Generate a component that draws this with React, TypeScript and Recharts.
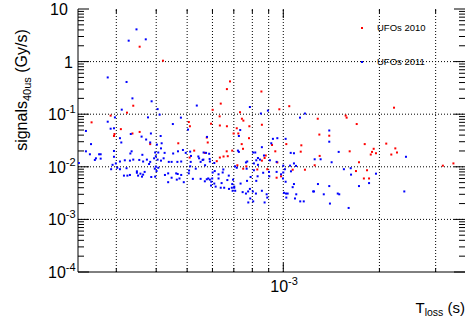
import React from "react";
import { ScatterChart, Scatter, XAxis, YAxis, ReferenceLine } from "recharts";

const FONT = '"Liberation Sans", Arial, Helvetica, sans-serif';
const W = 467;
const H = 321;
const PL = 78;
const PR = 465;
const PT = 9;
const PB = 272;

// T_loss in ms, signal in Gy/s
const ufos2010: [number, number][] = [
  [0.355, 1.92], [0.42, 1.04], [0.681, 0.42], [0.666, 0.3], [0.854, 0.27], [0.339, 0.145], [0.637, 0.159],
  [0.601, 0.121], [0.732, 0.109], [0.972, 0.124], [0.324, 0.107], [0.288, 0.094], [0.632, 0.091], [0.742, 0.082],
  [0.75, 0.0755], [0.251, 0.07], [0.506, 0.071], [0.594, 0.066], [0.51, 0.059], [0.633, 0.061], [0.666, 0.059],
  [0.783, 0.059], [0.857, 0.063], [0.715, 0.054], [0.31, 0.052], [1.044, 0.142], [0.699, 0.043], [0.576, 0.036],
  [0.58, 0.029], [0.469, 0.028], [0.526, 0.0203], [0.568, 0.0184], [0.692, 0.0203], [0.665, 0.0197], [0.65, 0.0157],
  [0.67, 0.0159], [0.633, 0.015], [0.619, 0.0128], [0.509, 0.015], [0.295, 0.0385], [0.337, 0.043], [0.355, 0.046],
  [0.383, 0.027], [0.296, 0.042], [0.723, 0.043], [0.781, 0.035], [0.741, 0.027], [0.922, 0.026], [1.022, 0.027],
  [1.139, 0.0256], [1.134, 0.0194], [0.944, 0.0197], [0.748, 0.022], [0.881, 0.0164], [0.874, 0.0147], [0.857, 0.0131],
  [0.958, 0.0121], [0.718, 0.0107], [0.766, 0.0102], [0.749, 0.0092], [0.829, 0.0089], [0.891, 0.009], [1.07, 0.0088],
  [1.169, 0.0088], [0.953, 0.0062], [0.984, 0.0066], [1.568, 0.094], [1.579, 0.086], [1.282, 0.082], [1.698, 0.065],
  [1.297, 0.041], [1.393, 0.039], [1.799, 0.027], [2.101, 0.0276], [1.919, 0.022], [1.896, 0.0192], [1.951, 0.0181],
  [1.879, 0.0171], [2.179, 0.0171], [1.614, 0.0197], [1.3, 0.0161], [1.726, 0.0122], [1.254, 0.0107], [1.689, 0.0083],
  [1.829, 0.0086], [1.788, 0.006], [1.856, 0.006], [2.222, 0.133], [2.243, 0.0224], [2.27, 0.0187], [3.16, 0.0105],
  [3.41, 0.0116],
];

const ufos2011: [number, number][] = [
  [0.347, 4.1], [0.328, 2.5], [0.371, 2.65], [0.282, 0.5], [0.323, 0.41], [0.337, 0.2], [0.387, 0.176], [0.312, 0.122],
  [0.404, 0.125], [0.536, 0.146], [0.786, 0.137], [0.895, 0.117], [0.851, 0.103], [0.297, 0.087], [0.41, 0.098],
  [0.377, 0.087], [0.478, 0.086], [0.282, 0.072], [0.451, 0.065], [0.295, 0.054], [0.288, 0.053], [0.503, 0.051],
  [1.169, 0.103], [1.128, 0.086], [0.241, 0.048], [0.308, 0.035], [0.36, 0.0375], [0.333, 0.042], [0.385, 0.043],
  [0.25, 0.027], [0.372, 0.033], [0.311, 0.029], [0.383, 0.029], [0.295, 0.02], [0.335, 0.0197], [0.332, 0.0179],
  [0.241, 0.0197], [0.248, 0.0173], [0.265, 0.0173], [0.268, 0.0173], [0.362, 0.0169], [0.397, 0.0187], [0.399, 0.0159],
  [0.259, 0.0145], [0.268, 0.0143], [0.257, 0.0135], [0.295, 0.0155], [0.339, 0.0137], [0.354, 0.0135], [0.374, 0.0137],
  [0.394, 0.0145], [0.229, 0.0118], [0.292, 0.0109], [0.299, 0.0116], [0.308, 0.0126], [0.319, 0.0133], [0.331, 0.0131],
  [0.364, 0.0126], [0.383, 0.0124], [0.38, 0.0113], [0.302, 0.0096], [0.323, 0.0094], [0.289, 0.009], [0.308, 0.009],
  [0.399, 0.0101], [0.396, 0.0092], [0.348, 0.0082], [0.368, 0.008], [0.348, 0.0077], [0.357, 0.0074], [0.317, 0.0068],
  [0.325, 0.0068], [0.331, 0.007], [0.351, 0.0068], [0.364, 0.0071], [0.361, 0.0065], [0.386, 0.0064], [0.397, 0.0065],
  [0.401, 0.0083], [0.413, 0.0385], [0.577, 0.037], [0.416, 0.028], [0.402, 0.0264], [0.414, 0.0224], [0.485, 0.0209],
  [0.468, 0.0197], [0.452, 0.0179], [0.511, 0.0194], [0.425, 0.0184], [0.406, 0.0187], [0.495, 0.0184], [0.563, 0.0187],
  [0.573, 0.0184], [0.514, 0.0161], [0.542, 0.0157], [0.586, 0.0177], [0.545, 0.0145], [0.559, 0.0135], [0.588, 0.0141],
  [0.422, 0.0145], [0.404, 0.0137], [0.414, 0.0131], [0.438, 0.0124], [0.447, 0.0124], [0.466, 0.0124], [0.479, 0.0126],
  [0.513, 0.0124], [0.551, 0.0124], [0.589, 0.0126], [0.569, 0.0107], [0.532, 0.0092], [0.511, 0.0102], [0.507, 0.0085],
  [0.506, 0.0075], [0.479, 0.007], [0.436, 0.0075], [0.426, 0.007], [0.447, 0.0062], [0.462, 0.0075], [0.467, 0.0073],
  [0.473, 0.006], [0.464, 0.0057], [0.488, 0.0051], [0.406, 0.0096], [0.436, 0.0051], [0.521, 0.0059], [0.551, 0.0059],
  [0.576, 0.0058], [0.568, 0.0053], [0.582, 0.006], [0.589, 0.0057], [0.601, 0.0078], [0.61, 0.0083], [0.627, 0.0072],
  [0.646, 0.0078], [0.599, 0.006], [0.627, 0.006], [0.595, 0.0052], [0.608, 0.0048], [0.641, 0.0049], [0.675, 0.0068],
  [0.668, 0.0056], [0.696, 0.0057], [0.692, 0.0047], [0.637, 0.004], [0.653, 0.004], [0.676, 0.0038], [0.69, 0.004],
  [0.702, 0.0042], [0.694, 0.0035], [0.594, 0.0044], [0.614, 0.0042], [0.562, 0.0137], [0.608, 0.0118], [0.649, 0.0089],
  [0.733, 0.05], [0.726, 0.0385], [0.928, 0.034], [0.958, 0.035], [1.017, 0.034], [0.917, 0.028], [0.857, 0.0236],
  [1.055, 0.0184], [1.08, 0.0181], [0.721, 0.0203], [0.726, 0.0192], [0.805, 0.0187], [0.817, 0.0187], [0.87, 0.0164],
  [0.833, 0.0147], [0.771, 0.0126], [0.764, 0.0121], [0.823, 0.0133], [0.845, 0.0137], [0.809, 0.0116], [0.833, 0.0109],
  [0.908, 0.0133], [0.953, 0.0124], [1.08, 0.0116], [1.05, 0.0105], [1.096, 0.0104], [1.0, 0.0105], [0.706, 0.0102],
  [0.715, 0.0096], [0.768, 0.0092], [0.809, 0.0086], [0.902, 0.008], [0.865, 0.0077], [0.831, 0.0066], [0.904, 0.0066],
  [0.79, 0.0064], [0.77, 0.0054], [0.823, 0.0054], [0.735, 0.0048], [0.786, 0.0038], [0.803, 0.0034], [0.857, 0.0035],
  [0.776, 0.0034], [0.998, 0.006], [1.017, 0.0052], [1.07, 0.0041], [1.005, 0.0032], [1.02, 0.0031], [1.032, 0.0031],
  [1.098, 0.003], [1.022, 0.0026], [1.088, 0.0025], [1.13, 0.0022], [1.159, 0.0022], [0.984, 0.0072], [1.24, 0.0034],
  [0.702, 0.004], [0.707, 0.0035], [0.746, 0.0033], [0.764, 0.0031], [0.821, 0.0031], [0.887, 0.003], [0.891, 0.0026],
  [0.788, 0.0025], [0.777, 0.0021], [0.805, 0.0022], [0.874, 0.0021], [1.08, 0.0047], [1.057, 0.0082], [1.012, 0.009],
  [0.953, 0.008], [1.0, 0.0078], [1.393, 0.049], [1.393, 0.03], [1.491, 0.0192], [1.254, 0.0139], [1.309, 0.0139],
  [1.417, 0.0122], [1.548, 0.009], [1.626, 0.0094], [1.63, 0.0071], [1.951, 0.0074], [1.856, 0.0049], [1.726, 0.0043],
  [1.284, 0.0047], [1.393, 0.0043], [1.248, 0.0034], [1.481, 0.0031], [1.497, 0.003], [1.339, 0.003], [1.4, 0.002],
  [1.602, 0.00165], [2.422, 0.0155], [2.393, 0.0034],
];

const xDomain: [number, number] = [2.276e-4, 3.707e-3];
const yDomain: [number, number] = [1e-4, 10];
const xTicks = [3e-4, 4e-4, 5e-4, 6e-4, 7e-4, 8e-4, 9e-4, 1e-3, 2e-3, 3e-3];
const xGrid = [3e-4, 4e-4, 5e-4, 6e-4, 7e-4, 8e-4, 9e-4, 1e-3, 2e-3, 3e-3];
const yTicks = [
  1e-4, 2e-4, 3e-4, 4e-4, 5e-4, 6e-4, 7e-4, 8e-4, 9e-4,
  1e-3, 2e-3, 3e-3, 4e-3, 5e-3, 6e-3, 7e-3, 8e-3, 9e-3,
  0.01, 0.02, 0.03, 0.04, 0.05, 0.06, 0.07, 0.08, 0.09,
  0.1, 0.2, 0.3, 0.4, 0.5, 0.6, 0.7, 0.8, 0.9,
  1, 2, 3, 4, 5, 6, 7, 8, 9, 10,
];
const yGrid = [1e-3, 1e-2, 1e-1, 1];
const decadeLabels: Record<string, [string, string]> = {
  "-4": ["10", "-4"],
  "-3": ["10", "-3"],
  "-2": ["10", "-2"],
  "-1": ["10", "-1"],
  "0": ["1", ""],
  "1": ["10", ""],
};
const seriesNames = ["UFOs 2010", "UFOs 2011"];
const seriesColors = ["#ff0000", "#0000ff"];

const toRows = (pts: [number, number][]) => pts.map(([t, s]) => ({ t: t * 1e-3, s }));
const data2010 = toRows(ufos2010);
const data2011 = toRows(ufos2011);

const decadeOf = (v: number) => {
  const l = Math.log10(v);
  const r = Math.round(l);
  return Math.abs(l - r) < 1e-6 ? r : null;
};

function YTick(props: any) {
  const { y, payload } = props;
  const d = decadeOf(payload.value);
  const len = d !== null ? 11 : 6;
  const lab = d !== null ? decadeLabels[String(d)] : null;
  const startAligned = lab && lab[0] === "10";
  return (
    <g>
      <line x1={PL} x2={PL + len} y1={y} y2={y} stroke="#000" strokeWidth={1} />
      <line x1={PR - len} x2={PR} y1={y} y2={y} stroke="#000" strokeWidth={1} />
      {lab && (
        <text
          x={startAligned ? (lab[1] ? 48 : 50) : 73}
          y={y + 6}
          textAnchor={startAligned ? "start" : "end"}
          fontFamily={FONT}
          fontSize={16}
          fill="#000"
        >
          {lab[0]}
          {lab[1] && (
            <tspan dy={-7} fontSize={11}>
              {lab[1]}
            </tspan>
          )}
        </text>
      )}
    </g>
  );
}

function XTick(props: any) {
  const { x, payload } = props;
  const d = decadeOf(payload.value);
  const len = d !== null ? 9 : 4;
  const lab = d !== null ? decadeLabels[String(d)] : null;
  return (
    <g>
      <line x1={x} x2={x} y1={PB} y2={PB - len} stroke="#000" strokeWidth={1} />
      <line x1={x} x2={x} y1={PT} y2={PT + len} stroke="#000" strokeWidth={1} />
      {lab && (
        <text x={x - 13} y={292} textAnchor="start" fontFamily={FONT} fontSize={16} fill="#000">
          {lab[0]}
          <tspan dy={-7} fontSize={11}>
            {lab[1]}
          </tspan>
        </text>
      )}
    </g>
  );
}

const Square = (color: string) => (p: any) => (
  <rect x={p.cx - 1} y={p.cy - 1} width={2} height={2} fill={color} />
);

const renderYTitle = () => (
  <text
    x={27}
    y={90}
    transform="rotate(-90 27 90)"
    textAnchor="middle"
    fontFamily={FONT}
    fontSize={16}
    fill="#000"
  >
    signals
    <tspan fontSize={11} dy={4}>
      40us
    </tspan>
    <tspan fontSize={16} dy={-4}>
      {" (Gy/s)"}
    </tspan>
  </text>
);

const renderXTitle = () => (
  <text x={465} y={313} textAnchor="end" fontFamily={FONT} fontSize={15} fill="#000">
    T
    <tspan fontSize={10.5} dy={3}>
      loss
    </tspan>
    <tspan fontSize={15} dy={-3}>
      {" (s)"}
    </tspan>
  </text>
);

function LegendBox() {
  return (
    <div style={{ position: "absolute", left: 350, top: 18, width: 112, height: 60, fontFamily: FONT, fontSize: 9.5, color: "#000" }}>
      {seriesNames.map((name, i) => (
        <React.Fragment key={name}>
          <div
            style={{ position: "absolute", left: 11, top: i * 34 + 9, width: 2, height: 2, background: seriesColors[i] }}
          />
          <div
            style={{ position: "absolute", left: 27, top: i * 34 + 3, lineHeight: "14px", whiteSpace: "nowrap" }}
          >
            {name}
          </div>
        </React.Fragment>
      ))}
    </div>
  );
}

export default function App() {
  return (
    <div style={{ position: "absolute", left: 0, top: 0, width: W, height: H, background: "#fff" }}>
      <ScatterChart width={W} height={H} margin={{ top: PT, right: W - PR, bottom: 0, left: 0 }}>
        <XAxis
          dataKey="t"
          type="number"
          scale="log"
          domain={xDomain}
          allowDataOverflow
          ticks={xTicks}
          interval={0}
          tick={<XTick />}
          tickLine={false}
          axisLine={{ stroke: "#000", strokeWidth: 1 }}
          height={H - PB}
          label={renderXTitle}
        />
        <XAxis
          xAxisId="top"
          orientation="top"
          type="number"
          scale="log"
          domain={xDomain}
          allowDataOverflow
          height={0}
          tick={false}
          tickLine={false}
          axisLine={{ stroke: "#000", strokeWidth: 1 }}
        />
        <YAxis
          dataKey="s"
          type="number"
          scale="log"
          domain={yDomain}
          allowDataOverflow
          ticks={yTicks}
          interval={0}
          tick={<YTick />}
          tickLine={false}
          axisLine={{ stroke: "#000", strokeWidth: 1 }}
          width={PL}
          label={renderYTitle}
        />
        <YAxis
          yAxisId="right"
          orientation="right"
          type="number"
          scale="log"
          domain={yDomain}
          allowDataOverflow
          width={0}
          tick={false}
          tickLine={false}
          axisLine={{ stroke: "#000", strokeWidth: 1 }}
        />
        {xGrid.map((v) => (
          <ReferenceLine key={"x" + v} x={v} stroke="#000" strokeWidth={1} strokeDasharray="1 2" />
        ))}
        {yGrid.map((v) => (
          <ReferenceLine key={"y" + v} y={v} stroke="#000" strokeWidth={1} strokeDasharray="1 2" />
        ))}
        <Scatter name={seriesNames[0]} data={data2010} shape={Square(seriesColors[0])} isAnimationActive={false} />
        <Scatter name={seriesNames[1]} data={data2011} shape={Square(seriesColors[1])} isAnimationActive={false} />
      </ScatterChart>
      <LegendBox />
    </div>
  );
}
